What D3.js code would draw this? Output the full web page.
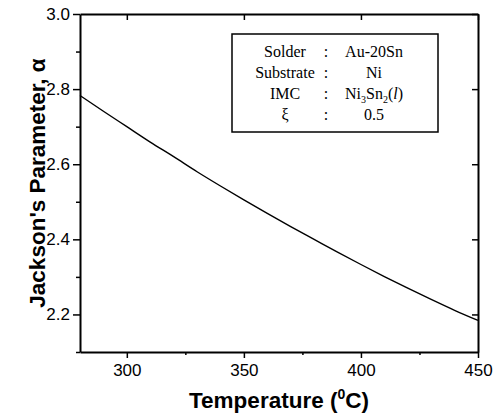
<!DOCTYPE html>
<html>
<head>
<meta charset="utf-8">
<script src="https://cdn.jsdelivr.net/npm/d3@7"></script>
<style>
  html, body { margin: 0; padding: 0; background: #fff; }
  svg { display: block; }
</style>
</head>
<body>
<svg id="chart" width="494" height="416"></svg>
<script>
// ---- data ----
const temperatures = [280, 290, 300, 310, 320, 330, 340, 350, 360, 370, 380, 390, 400, 410, 420, 430, 440, 450];
const alphaValues  = [2.783, 2.741, 2.700, 2.659, 2.620, 2.580, 2.542, 2.505, 2.469, 2.434, 2.400, 2.366, 2.333, 2.301, 2.270, 2.240, 2.211, 2.184];
const xTicks = [300, 350, 400, 450];
const xMinorTicks = [325, 375, 425];
const yTicks = [2.2, 2.4, 2.6, 2.8, 3.0];
const yMinorTicks = [2.1, 2.3, 2.5, 2.7, 2.9];
const legendLabels = ["Solder", "Substrate", "IMC", "\u03BE"];
const legendValues = ["Au-20Sn", "Ni", "Ni3Sn2(l)", "0.5"];

// ---- layout ----
const svg = d3.select("#chart");
const L = 80, R = 478, T = 14, B = 352;
const x = d3.scaleLinear().domain([280, 450]).range([L, R]);
const y = d3.scaleLinear().domain([2.1, 3.0]).range([B, T]);
const tickFont = "'Liberation Sans', Arial, sans-serif";

// curve
const line = d3.line().x((d, i) => x(temperatures[i])).y(d => y(d)).curve(d3.curveMonotoneX);
svg.append("path")
  .datum(alphaValues)
  .attr("d", line)
  .attr("fill", "none")
  .attr("stroke", "#000")
  .attr("stroke-width", 1.4);

// axes
function styleAxis(g) {
  g.selectAll("path.domain").attr("stroke", "#000").attr("stroke-width", 2);
  g.selectAll(".tick line").attr("stroke", "#000").attr("stroke-width", 1.5);
  g.selectAll(".tick text").attr("font-family", tickFont).attr("font-size", 17).attr("fill", "#000");
}
// bottom
const gb = svg.append("g").attr("transform", `translate(0,${B})`)
  .call(d3.axisBottom(x).tickValues(xTicks).tickSize(6).tickSizeOuter(0).tickPadding(6).tickFormat(d3.format("d")));
styleAxis(gb);
svg.append("g").attr("transform", `translate(0,${B})`)
  .call(d3.axisBottom(x).tickValues(xMinorTicks).tickSize(3).tickSizeOuter(0).tickFormat(""))
  .call(g => { g.select(".domain").remove(); g.selectAll("line").attr("stroke", "#000").attr("stroke-width", 1.5); });
// top (inward)
const gt = svg.append("g").attr("transform", `translate(0,${T})`)
  .call(d3.axisBottom(x).tickValues(xTicks).tickSize(6).tickSizeOuter(0).tickFormat(""));
styleAxis(gt);
// left
const gl = svg.append("g").attr("transform", `translate(${L},0)`)
  .call(d3.axisLeft(y).tickValues(yTicks).tickSize(7).tickSizeOuter(0).tickPadding(3).tickFormat(d3.format(".1f")));
styleAxis(gl);
svg.append("g").attr("transform", `translate(${L},0)`)
  .call(d3.axisLeft(y).tickValues(yMinorTicks).tickSize(4).tickSizeOuter(0).tickFormat(""))
  .call(g => { g.select(".domain").remove(); g.selectAll("line").attr("stroke", "#000").attr("stroke-width", 1.5); });
// right (inward)
const gr = svg.append("g").attr("transform", `translate(${R},0)`)
  .call(d3.axisLeft(y).tickValues(yTicks).tickSize(6).tickSizeOuter(0).tickFormat(""));
styleAxis(gr);

// axis titles
const xt = svg.append("text")
  .attr("x", (L + R) / 2).attr("y", 408)
  .attr("text-anchor", "middle")
  .attr("font-family", tickFont).attr("font-weight", "bold").attr("font-size", 22.5);
xt.append("tspan").text("Temperature (");
xt.append("tspan").text("0").attr("font-size", 14).attr("dy", -9);
xt.append("tspan").text("C)").attr("dy", 9);

svg.append("text")
  .attr("transform", `translate(45,${(T + B) / 2}) rotate(-90)`)
  .attr("text-anchor", "middle")
  .attr("font-family", tickFont).attr("font-weight", "bold").attr("font-size", 22.5)
  .text("Jackson's Parameter, \u03B1");

// legend box
const boxX0 = 232, boxX1 = 438, boxY0 = 34, boxY1 = 132;
svg.append("rect")
  .attr("x", boxX0).attr("y", boxY0).attr("width", boxX1 - boxX0).attr("height", boxY1 - boxY0)
  .attr("fill", "#fff").attr("stroke", "#000").attr("stroke-width", 1.5);
const serif = "'Liberation Serif', 'Times New Roman', serif";
const rowY = d3.scalePoint().domain(d3.range(legendLabels.length)).range([57, 120]);
legendLabels.forEach((lab, i) => {
  const yy = rowY(i);
  svg.append("text").attr("x", 285).attr("y", yy).attr("text-anchor", "middle")
    .attr("font-family", serif).attr("font-size", 16).text(lab);
  svg.append("text").attr("x", 326).attr("y", yy).attr("text-anchor", "middle")
    .attr("font-family", serif).attr("font-size", 16).text(":");
  const t = svg.append("text").attr("x", 374).attr("y", yy).attr("text-anchor", "middle")
    .attr("font-family", serif).attr("font-size", 16);
  const v = legendValues[i];
  if (v === "Ni3Sn2(l)") {
    t.append("tspan").text("Ni");
    t.append("tspan").text("3").attr("font-size", 10).attr("dy", 4);
    t.append("tspan").text("Sn").attr("dy", -4);
    t.append("tspan").text("2").attr("font-size", 10).attr("dy", 4);
    t.append("tspan").text("(").attr("dy", -4);
    t.append("tspan").text("l").attr("font-style", "italic");
    t.append("tspan").text(")");
  } else {
    t.text(v);
  }
});
</script>
</body>
</html>
